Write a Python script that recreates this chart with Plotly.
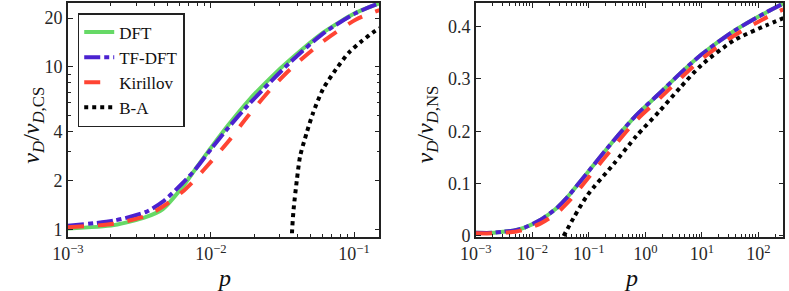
import plotly.graph_objects as go

# ---------------- data ----------------
# Left panel: nu_D / nu_D,CS vs p
P_LEFT = [1e-3, 2.10e-3, 3.53e-3, 4.61e-3, 6.32e-3, 7.76e-3, 1.016e-2, 1.33e-2,
          1.82e-2, 2.62e-2, 3.59e-2, 6.04e-2, 0.1033, 0.1507]
DFT_LEFT = [1.01, 1.06, 1.19, 1.33, 1.82, 2.34, 3.24, 4.42, 6.17, 8.6, 11.1, 16.2, 21.6, 24.7]
TFDFT_LEFT = [1.05, 1.13, 1.28, 1.48, 1.92, 2.33, 3.17, 4.25, 5.82, 8.13, 10.7, 16.0, 21.5, 24.7]
KIR_LEFT = [1.03, 1.08, 1.21, 1.38, 1.70, 2.03, 2.65, 3.5, 5.0, 7.3, 9.7, 14.3, 19.6, 22.4]
P_BA_LEFT = [0.03665, 0.03683, 0.03779, 0.03988, 0.04201, 0.04669, 0.05182, 0.06065,
             0.07492, 0.09243, 0.1140, 0.1408, 0.1507]
BA_LEFT = [0.6, 0.94, 1.32, 2.02, 2.82, 3.93, 5.23, 7.29, 9.69, 12.3, 14.5, 16.7, 17.3]

# Right panel: nu_D / nu_D,NS vs p
P_RIGHT = [1e-3, 2e-3, 3e-3, 5e-3, 7.3e-3, 0.0141, 0.0275, 0.0426, 0.0535, 0.105,
           0.274, 0.695, 1.77, 4.19, 9.96, 37.6, 142.6, 277]
DFT_RIGHT = [0.006, 0.006, 0.008, 0.011, 0.016, 0.031, 0.054, 0.075, 0.088, 0.127,
             0.182, 0.231, 0.272, 0.311, 0.347, 0.392, 0.428, 0.444]
TFDFT_RIGHT = [0.006, 0.006, 0.008, 0.011, 0.016, 0.031, 0.054, 0.075, 0.088, 0.127,
               0.182, 0.231, 0.272, 0.311, 0.347, 0.392, 0.428, 0.444]
KIR_RIGHT = [0.005, 0.005, 0.006, 0.008, 0.012, 0.024, 0.044, 0.064, 0.076, 0.115,
             0.170, 0.221, 0.262, 0.301, 0.338, 0.383, 0.418, 0.433]
P_BA_RIGHT = [0.0359, 0.0535, 0.0946, 0.274, 0.695, 1.77, 4.19, 9.96, 37.6, 142.6, 277]
BA_RIGHT = [0.0, 0.034, 0.078, 0.137, 0.191, 0.238, 0.284, 0.327, 0.374, 0.403, 0.416]

NAMES = ["DFT", "TF-DFT", "Kirillov", "B-A"]
COLORS = ["#66D966", "#4B22D0", "#FF4433", "#000000"]
DASHES = ["solid", "16px,4px,5px,4px", "16px,14px", "4px,4px"]

LEFT_XTICKS = [1e-3, 1e-2, 1e-1]
LEFT_XTEXT = ["10<sup>−3</sup>", "10<sup>−2</sup>", "10<sup>−1</sup>"]
LEFT_YTICKS = [1, 2, 4, 10, 20]
LEFT_YMINOR = [3, 5, 6, 7, 8, 9]
RIGHT_XTICKS = [1e-3, 1e-2, 1e-1, 1, 10, 100]
RIGHT_XTEXT = ["10<sup>−3</sup>", "10<sup>−2</sup>", "10<sup>−1</sup>",
               "10<sup>0</sup>", "10<sup>1</sup>", "10<sup>2</sup>"]
RIGHT_YTICKS = [0, 0.1, 0.2, 0.3, 0.4]

FONT = "Liberation Serif, Times New Roman, serif"
W, H = 789, 291

fig = go.Figure()

left_sets = [(P_LEFT, DFT_LEFT), (P_LEFT, TFDFT_LEFT), (P_LEFT, KIR_LEFT), (P_BA_LEFT, BA_LEFT)]
right_sets = [(P_RIGHT, DFT_RIGHT), (P_RIGHT, TFDFT_RIGHT), (P_RIGHT, KIR_RIGHT), (P_BA_RIGHT, BA_RIGHT)]

for i, (px, py) in enumerate(left_sets):
    fig.add_trace(go.Scatter(x=px, y=py, mode="lines", name=NAMES[i],
                             line=dict(color=COLORS[i], width=4, dash=DASHES[i],
                                       shape="spline", smoothing=0.7),
                             xaxis="x", yaxis="y", showlegend=True))
for i, (px, py) in enumerate(right_sets):
    fig.add_trace(go.Scatter(x=px, y=py, mode="lines", name=NAMES[i],
                             line=dict(color=COLORS[i], width=4, dash=DASHES[i],
                                       shape="spline", smoothing=0.7),
                             xaxis="x2", yaxis="y2", showlegend=False))


def minor_log(lo_dec, hi_dec, vmax):
    vals = []
    for d in range(lo_dec, hi_dec + 1):
        for m in range(2, 10):
            v = m * 10 ** d
            if v <= vmax:
                vals.append(v)
    return vals


axis_common = dict(showline=True, linecolor="#222222", linewidth=1.5, mirror="ticks",
                   ticks="inside", ticklen=5, tickwidth=1, tickcolor="#222222",
                   showgrid=False, zeroline=False,
                   tickfont=dict(family=FONT, size=18, color="#262626"))

x0l, x1l = 53 / W, 371 / W
x0r, x1r = 469.3 / W, 783.3 / W

fig.update_layout(
    width=W, height=H,
    margin=dict(l=0, r=0, t=3, b=54),
    paper_bgcolor="white", plot_bgcolor="white",
    font=dict(family=FONT, color="#262626"),
    xaxis=dict(domain=[x0l, x1l], type="log", range=[-3, -0.822],
               tickmode="array", tickvals=LEFT_XTICKS, ticktext=LEFT_XTEXT,
               minor=dict(ticks="inside", ticklen=3, tickcolor="#222222",
                          tickmode="array", tickvals=minor_log(-3, -1, 0.15)),
               anchor="y", **axis_common),
    yaxis=dict(domain=[0, 1], type="log", range=[-0.048, 1.394],
               tickmode="array", tickvals=LEFT_YTICKS, ticktext=[str(v) for v in LEFT_YTICKS],
               minor=dict(ticks="inside", ticklen=3, tickcolor="#222222",
                          tickmode="array", tickvals=LEFT_YMINOR),
               anchor="x", **axis_common),
    xaxis2=dict(domain=[x0r, x1r], type="log", range=[-3, 2.444],
                tickmode="array", tickvals=RIGHT_XTICKS, ticktext=RIGHT_XTEXT,
                minor=dict(ticks="inside", ticklen=3, tickcolor="#222222",
                           tickmode="array", tickvals=minor_log(-3, 2, 280)),
                anchor="y2", **axis_common),
    yaxis2=dict(domain=[0, 1], range=[-0.002, 0.445],
                tickmode="array", tickvals=RIGHT_YTICKS,
                ticktext=["0", "0.1", "0.2", "0.3", "0.4"],
                anchor="x2", **axis_common),
    legend=dict(x=63 / W, y=(237 - 13) / 234, xanchor="left", yanchor="top",
                bgcolor="white", bordercolor="#222222", borderwidth=1.5,
                font=dict(family=FONT, size=17, color="#111111"),
                itemwidth=30, tracegroupgap=0),
)

title_font = dict(family=FONT, size=24, color="#111111")
fig.add_annotation(text="<i>p</i>", xref="paper", yref="paper",
                   x=212 / W, y=-(278 - 237) / 234, showarrow=False,
                   xanchor="center", yanchor="middle", font=title_font)
fig.add_annotation(text="<i>p</i>", xref="paper", yref="paper",
                   x=628 / W, y=-(278 - 237) / 234, showarrow=False,
                   xanchor="center", yanchor="middle", font=title_font)
fig.add_annotation(text="<i>ν</i><sub><i>D</i></sub>/<i>ν</i><sub><i>D</i>,CS</sub>",
                   xref="paper", yref="paper", x=17 / W, y=(237 - 125) / 234,
                   showarrow=False, textangle=-90, xanchor="center", yanchor="middle",
                   font=title_font)
fig.add_annotation(text="<i>ν</i><sub><i>D</i></sub>/<i>ν</i><sub><i>D</i>,NS</sub>",
                   xref="paper", yref="paper", x=419 / W, y=(237 - 125) / 234,
                   showarrow=False, textangle=-90, xanchor="center", yanchor="middle",
                   font=title_font)

fig.write_html("out.html", config={"displayModeBar": False},
               post_script="document.body.style.margin='0';document.body.style.padding='0';")
